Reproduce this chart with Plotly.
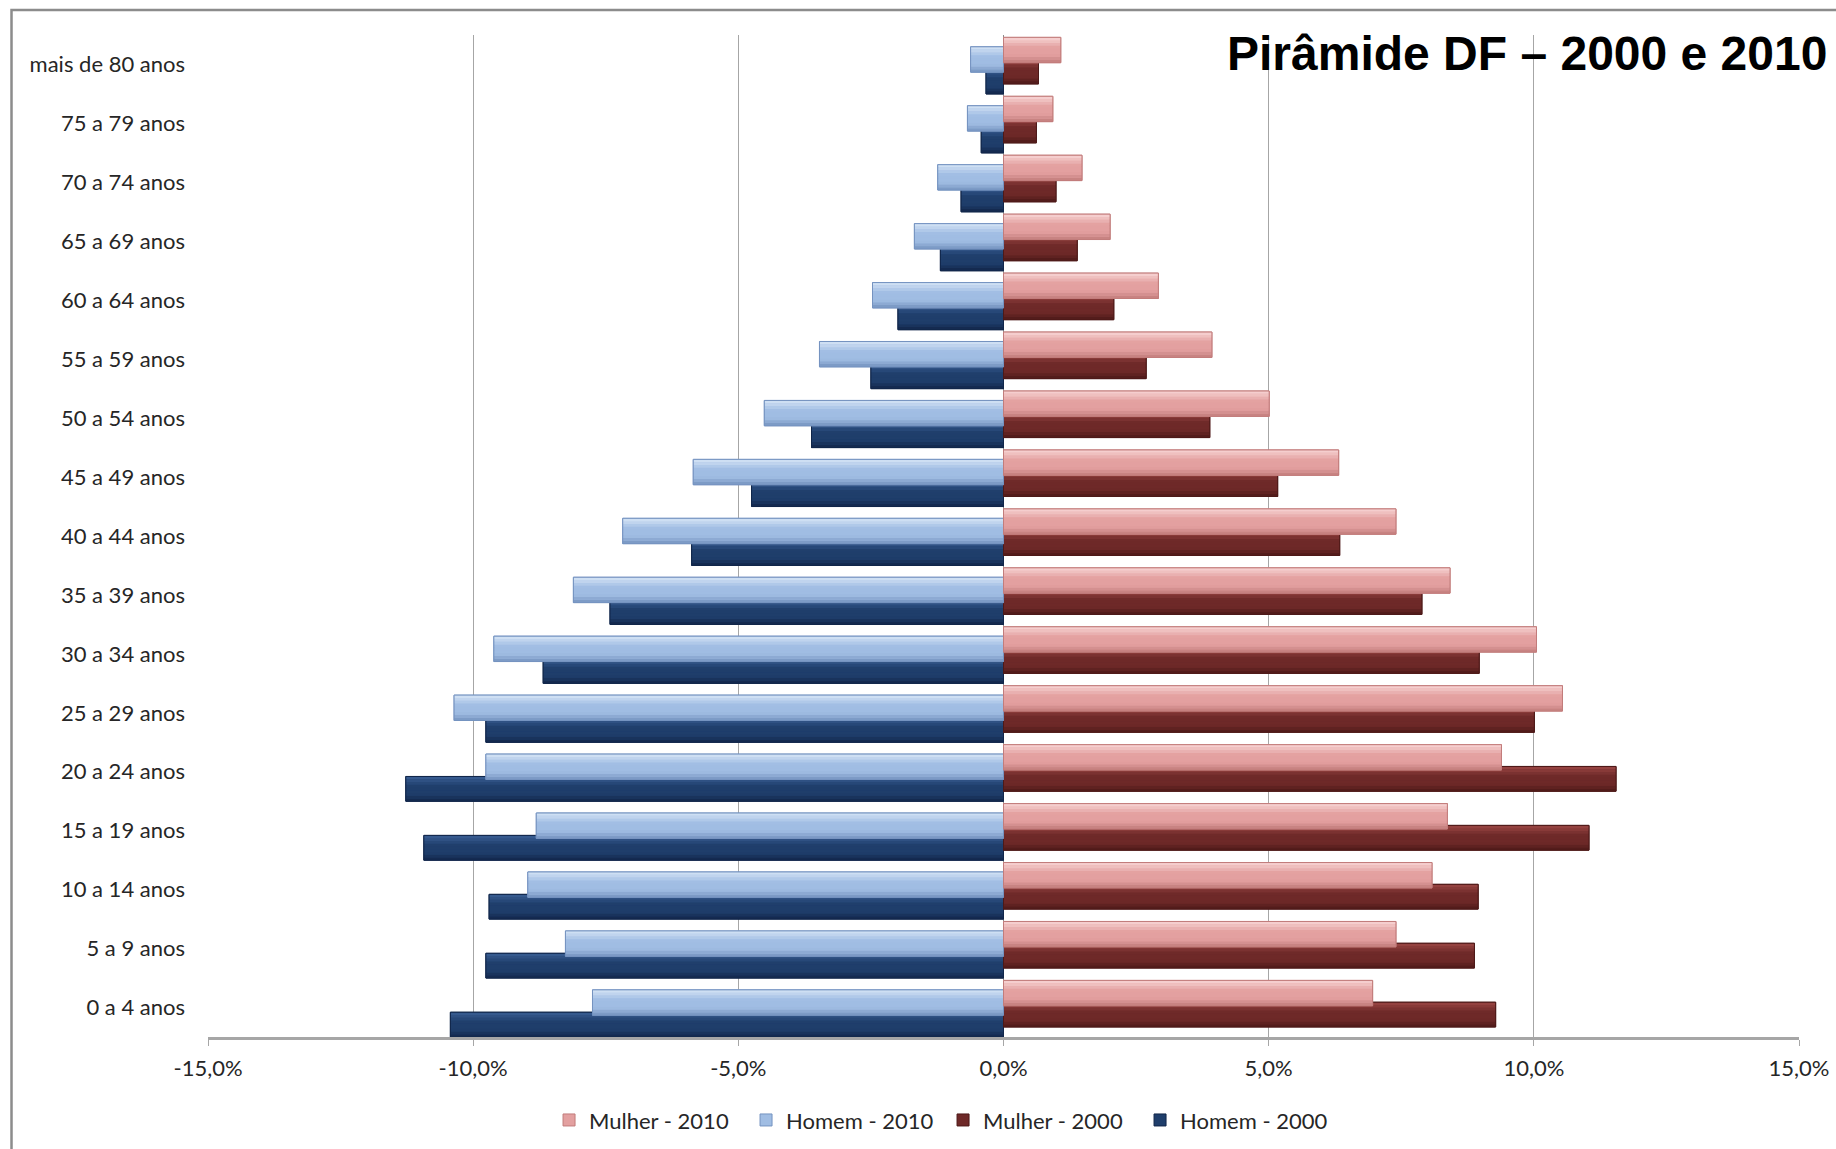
import plotly.graph_objects as go

# Faixas etárias (de baixo para cima) e participação percentual na população
faixas = ["0 a 4 anos", "5 a 9 anos", "10 a 14 anos", "15 a 19 anos", "20 a 24 anos",
          "25 a 29 anos", "30 a 34 anos", "35 a 39 anos", "40 a 44 anos", "45 a 49 anos",
          "50 a 54 anos", "55 a 59 anos", "60 a 64 anos", "65 a 69 anos", "70 a 74 anos",
          "75 a 79 anos", "mais de 80 anos"]

homem_2000 = [10.43, 9.76, 9.70, 10.93, 11.27, 9.76, 8.68, 7.42, 5.88, 4.75,
              3.62, 2.50, 1.99, 1.19, 0.80, 0.42, 0.33]
homem_2010 = [7.75, 8.26, 8.97, 8.81, 9.76, 10.36, 9.61, 8.11, 7.18, 5.85,
              4.51, 3.47, 2.47, 1.68, 1.24, 0.68, 0.62]
mulher_2000 = [9.28, 8.88, 8.95, 11.04, 11.55, 10.01, 8.97, 7.89, 6.34, 5.17,
               3.89, 2.69, 2.08, 1.39, 0.99, 0.62, 0.66]
mulher_2010 = [6.96, 7.40, 8.08, 8.37, 9.39, 10.54, 10.05, 8.42, 7.40, 6.32,
               5.01, 3.93, 2.92, 2.01, 1.48, 0.93, 1.08]

tick_vals = [-15, -10, -5, 0, 5, 10, 15]
tick_text = ["-15,0%", "-10,0%", "-5,0%", "0,0%", "5,0%", "10,0%", "15,0%"]

# nome, valores, sinal, posição da barra na categoria, largura, cores (topo, meio, base), ordem na legenda
series = [
    ("Homem - 2000", homem_2000, -1, -0.50, 0.42, ("#3a5f94", "#1f3e6b", "#11264a"), 4),
    ("Mulher - 2000", mulher_2000, 1, -0.33, 0.42, ("#9a4644", "#6e2928", "#4d1918"), 3),
    ("Homem - 2010", homem_2010, -1, -0.13, 0.43, ("#d6e5f6", "#a0bde3", "#7593c0"), 2),
    ("Mulher - 2010", mulher_2010, 1, 0.03, 0.43, ("#f8d6d5", "#e3a0a0", "#c27c7b"), 1),
]

N_FAIXAS = 9  # faixas horizontais usadas para simular o degradê das barras


def hex_rgb(c):
    c = c.lstrip("#")
    return tuple(int(c[i:i + 2], 16) for i in (0, 2, 4))


def mistura(c1, c2, t):
    a, b = hex_rgb(c1), hex_rgb(c2)
    return "rgb(%d,%d,%d)" % tuple(round(a[i] + (b[i] - a[i]) * t) for i in range(3))


def cor_faixa(k, n, topo, meio, base):
    # k = 0 na base da barra, n-1 no topo
    f = (k + 0.5) / n
    if f < 0.3:
        return mistura(base, meio, f / 0.3)
    if f < 0.6:
        return mistura(meio, meio, 0)
    return mistura(meio, topo, (f - 0.6) / 0.4)


fig = go.Figure()
for nome, valores, sinal, pos, larg, (c_topo, c_meio, c_base), rank in series:
    xs = [sinal * v for v in valores]
    # barra principal (também define o símbolo da legenda)
    fig.add_trace(go.Bar(
        y=faixas, x=xs, orientation="h", name=nome,
        offset=pos, width=larg,
        marker=dict(color=c_meio, line=dict(color=c_base, width=1)),
        legendrank=rank, showlegend=True,
    ))
    # degradê vertical por faixas
    h = larg / N_FAIXAS
    for k in range(N_FAIXAS):
        fig.add_trace(go.Bar(
            y=faixas, x=xs, orientation="h", showlegend=False, hoverinfo="skip",
            offset=pos + k * h, width=h * 1.02,
            marker=dict(color=cor_faixa(k, N_FAIXAS, c_topo, c_meio, c_base), line=dict(width=0)),
        ))
    # contorno
    fig.add_trace(go.Bar(
        y=faixas, x=xs, orientation="h", showlegend=False, hoverinfo="skip",
        offset=pos, width=larg,
        marker=dict(color="rgba(0,0,0,0)", line=dict(color=c_base, width=1)),
    ))

fig.update_layout(
    width=1836, height=1149,
    margin=dict(l=208, r=37, t=35, b=112, autoexpand=False),
    paper_bgcolor="white", plot_bgcolor="white",
    barmode="overlay",
    font=dict(family="Lato, 'Open Sans', sans-serif", size=22, color="#262626"),
    showlegend=True,
    legend=dict(
        orientation="h", x=0.462, xanchor="center", y=-0.083, yanchor="middle",
        font=dict(size=22, color="#262626"), traceorder="normal",
        itemwidth=30, entrywidth=152, entrywidthmode="pixels",
    ),
    annotations=[dict(
        text="<b>Pirâmide DF – 2000 e 2010</b>", xref="paper", yref="paper",
        x=1.019, y=0.982, xanchor="right", yanchor="middle", showarrow=False,
        font=dict(family="Liberation Sans, Arial, sans-serif", size=48, color="#000000"),
    )],
    shapes=[dict(
        type="rect", xref="paper", yref="paper",
        x0=-0.1235, x1=1.2, y0=-0.3, y1=1.025,
        line=dict(color="#8c8c8c", width=2.5), fillcolor="rgba(0,0,0,0)", layer="below",
    )],
)

fig.update_xaxes(
    range=[-15, 15], tickvals=tick_vals, ticktext=tick_text,
    showgrid=True, gridcolor="#a6a6a6", gridwidth=1,
    zeroline=True, zerolinecolor="#8c8c8c", zerolinewidth=1,
    showline=True, linecolor="#a6a6a6", linewidth=3,
    ticks="outside", ticklen=6, tickcolor="#a6a6a6",
    ticklabelstandoff=4, automargin=False,
    tickfont=dict(size=22, color="#262626"), fixedrange=True,
)
fig.update_yaxes(
    categoryorder="array", categoryarray=faixas,
    showgrid=False, showline=False, ticks="",
    ticklabelstandoff=22, automargin=False,
    tickfont=dict(size=22, color="#262626"), fixedrange=True,
)

fig.write_html("out.html")
